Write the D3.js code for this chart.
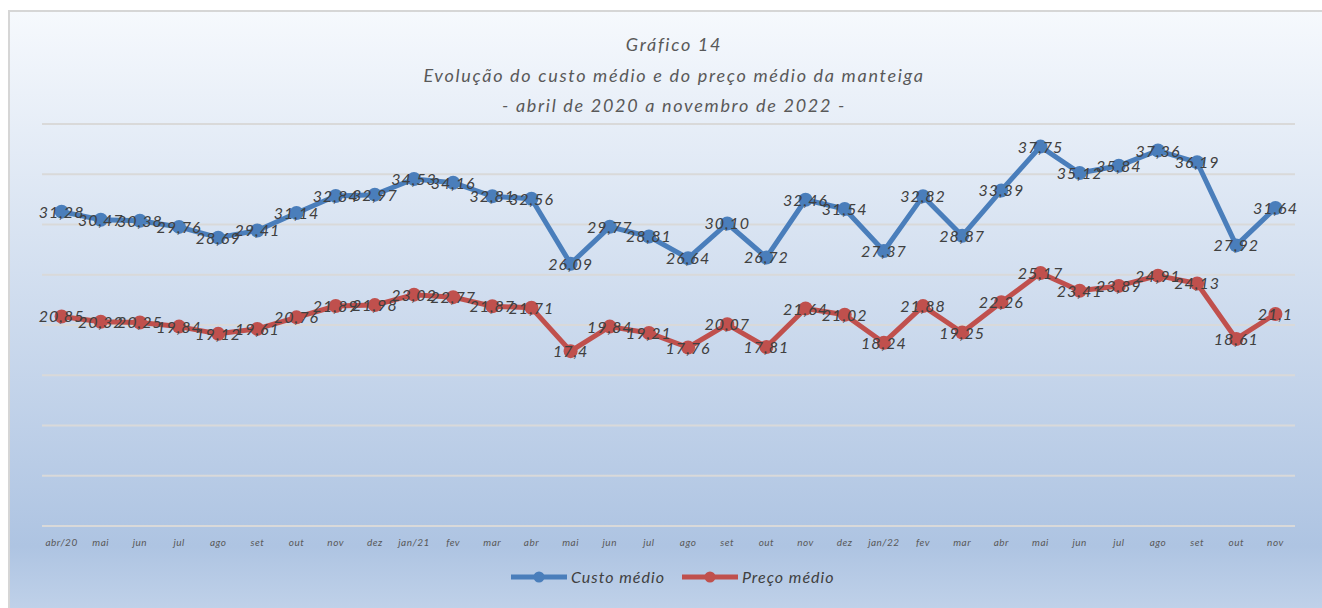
<script src="https://d3js.org/d3.v7.min.js"></script>
<style>
  body { margin: 0; background: #fff; }
  text { font-family: "Lato", "Open Sans", sans-serif; font-style: italic; }
</style>
<div id="chart"></div>
<script>
// months, abr/20 to nov/22
var months = ["abr/20","mai","jun","jul","ago","set","out","nov","dez",
  "jan/21","fev","mar","abr","mai","jun","jul","ago","set","out","nov","dez",
  "jan/22","fev","mar","abr","mai","jun","jul","ago","set","out","nov"];

var custo = [31.28,30.47,30.38,29.76,28.69,29.41,31.14,32.84,32.97,
  34.53,34.16,32.81,32.56,26.09,29.77,28.81,26.64,30.10,26.72,32.46,31.54,
  27.37,32.82,28.87,33.39,37.75,35.12,35.84,37.36,36.19,27.92,31.64];

var preco = [20.85,20.32,20.25,19.84,19.12,19.61,20.76,21.89,21.98,
  23.02,22.77,21.87,21.71,17.4,19.84,19.21,17.76,20.07,17.81,21.64,21.02,
  18.24,21.88,19.25,22.26,25.17,23.41,23.89,24.91,24.13,18.61,21.1];

var yTicks = [0,5,10,15,20,25,30,35,40];

var titleLines = ["Gráfico 14",
  "Evolução do custo médio e do preço médio da manteiga",
  "- abril de 2020 a novembro de 2022 -"];

var W = 1322, H = 608;
var margin = {top: 124, right: 27, bottom: 82, left: 42},
    width = W - margin.left - margin.right,
    height = H - margin.top - margin.bottom;

var svg = d3.select("#chart").append("svg")
    .attr("width", W).attr("height", H);

// background gradient
var grad = svg.append("defs").append("linearGradient")
    .attr("id", "bg").attr("x1", 0).attr("y1", 0).attr("x2", 0).attr("y2", 1);
grad.append("stop").attr("offset", "0%").attr("stop-color", "#f6f9fd");
grad.append("stop").attr("offset", "88%").attr("stop-color", "#aec4e2");
grad.append("stop").attr("offset", "100%").attr("stop-color", "#c2d3ea");

svg.append("rect")
    .attr("x", 9).attr("y", 11).attr("width", W).attr("height", H)
    .attr("fill", "url(#bg)")
    .attr("stroke", "#d6d6d6").attr("stroke-width", 2);

// title
svg.append("g").selectAll("text")
  .data(titleLines)
  .enter().append("text")
    .attr("x", 674)
    .attr("y", function(d, i) { return 51 + i * 30.5; })
    .attr("text-anchor", "middle")
    .style("font-size", "18px")
    .style("letter-spacing", "1.7px")
    .attr("fill", "#595959")
    .text(function(d) { return d; });

var g = svg.append("g")
    .attr("transform", "translate(" + margin.left + "," + margin.top + ")");

var x = d3.scaleBand().domain(d3.range(months.length)).range([0, width]);
var y = d3.scaleLinear().domain([0, 40]).range([height, 0]);

// gridlines
g.append("g").selectAll("line")
  .data(yTicks)
  .enter().append("line")
    .attr("x1", 0).attr("x2", width)
    .attr("y1", function(d) { return y(d); })
    .attr("y2", function(d) { return y(d); })
    .attr("stroke", "#d9d9d9").attr("stroke-width", 2);

// x axis
var xAxis = g.append("g")
    .attr("transform", "translate(0," + height + ")")
    .call(d3.axisBottom(x).tickSize(0).tickPadding(13)
      .tickFormat(function(i) { return months[i]; }));
xAxis.select(".domain").remove();
xAxis.selectAll("text")
    .style("font-size", "10px")
    .style("font-family", "Lato, sans-serif")
    .style("font-style", "italic")
    .style("letter-spacing", "0.5px")
    .attr("fill", "#595959");

var cx = function(d, i) { return x(i) + x.bandwidth() / 2; };

var series = [
  {name: "Custo médio", values: custo, color: "#4a7ebb", fmt: d3.format(".2f")},
  {name: "Preço médio", values: preco, color: "#c0504d", fmt: function(v) { return String(v); }}
];

var line = d3.line().x(cx).y(function(d) { return y(d); });

series.forEach(function(s) {
  g.append("path")
    .datum(s.values)
    .attr("fill", "none")
    .attr("stroke", s.color)
    .attr("stroke-width", 5)
    .attr("stroke-linejoin", "round")
    .attr("d", line);

  g.append("g").selectAll("circle")
    .data(s.values)
    .enter().append("circle")
      .attr("cx", cx)
      .attr("cy", function(d) { return y(d); })
      .attr("r", 7)
      .attr("fill", s.color);
});

series.forEach(function(s) {
  g.append("g").selectAll("text")
    .data(s.values)
    .enter().append("text")
      .attr("x", cx)
      .attr("y", function(d) { return y(d) + 6; })
      .attr("text-anchor", "middle")
      .style("font-size", "16px")
      .style("letter-spacing", "1px")
      .attr("fill", "#404040")
      .text(function(d) { return s.fmt(d).replace(".", ","); });
});

// legend
var legend = svg.append("g").selectAll("g")
  .data(series)
  .enter().append("g")
    .attr("transform", function(d, i) { return "translate(" + (511 + i * 171) + ",577)"; });
legend.append("line")
    .attr("x1", 0).attr("x2", 56)
    .attr("stroke", function(d) { return d.color; })
    .attr("stroke-width", 5);
legend.append("circle")
    .attr("cx", 28).attr("r", 5.5)
    .attr("fill", function(d) { return d.color; });
legend.append("text")
    .attr("x", 60).attr("y", 6)
    .style("font-size", "16px")
    .style("letter-spacing", "1px")
    .attr("fill", "#404040")
    .text(function(d) { return d.name; });
</script>
